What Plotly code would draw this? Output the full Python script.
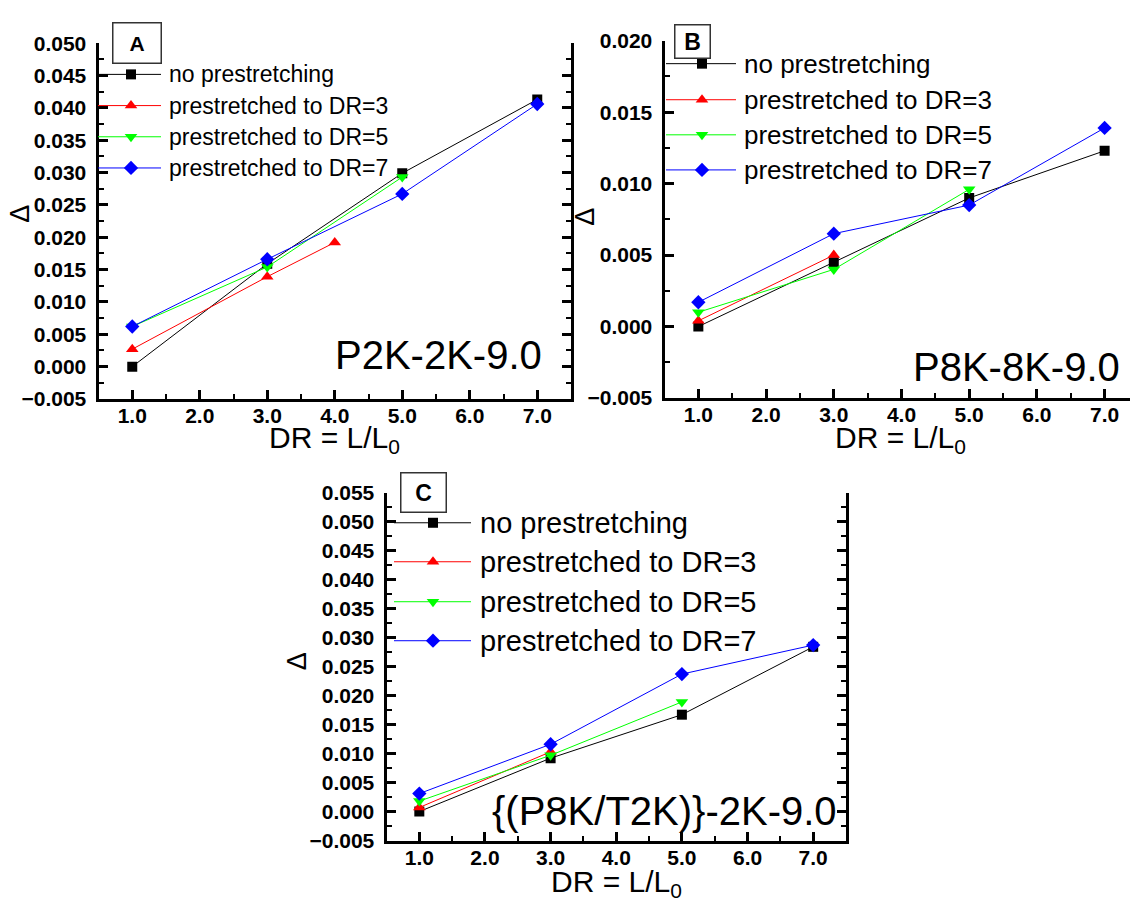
import plotly.graph_objects as go

# ---------------- data ----------------
DR_FULL = [1.0, 3.0, 5.0, 7.0]
DR_TO4 = [1.0, 3.0, 4.0]
DR_TO5 = [1.0, 3.0, 5.0]
DR_TO3 = [1.0, 3.0]

SERIES_NAMES = ["no prestretching", "prestretched to DR=3",
                "prestretched to DR=5", "prestretched to DR=7"]

# Panel A : P2K-2K-9.0
A_NONE = [0.0000, 0.0159, 0.0299, 0.0413]
A_DR3 = [0.0027, 0.0139, 0.0192]
A_DR5 = [0.0062, 0.0154, 0.0293]
A_DR7 = [0.0062, 0.0166, 0.0267, 0.0406]

# Panel B : P8K-8K-9.0
B_NONE = [0.0000, 0.0045, 0.0090, 0.0123]
B_DR3 = [0.0004, 0.0050]
B_DR5 = [0.0010, 0.0040, 0.0096]
B_DR7 = [0.0017, 0.0065, 0.0085, 0.0139]

# Panel C : {(P8K/T2K)}-2K-9.0
C_NONE = [0.0000, 0.0092, 0.0167, 0.0284]
C_DR3 = [0.0007, 0.0103]
C_DR5 = [0.0018, 0.0097, 0.0189]
C_DR7 = [0.0031, 0.0116, 0.0237, 0.0287]

X_TICKS = [1.0, 2.0, 3.0, 4.0, 5.0, 6.0, 7.0]

# ---------------- styles ----------------
W, H = 1130, 911
FONT = "Liberation Sans, Arial, sans-serif"
COLORS = ["#000000", "#ff0000", "#00ff00", "#0000ff"]
SYMBOLS = ["square", "triangle-up", "triangle-down", "diamond"]
MSIZES = [10, 11, 11, 11]


def px_x(v):
    return v / W


def px_y(v):
    return 1 - v / H


panels = [
    dict(name="A", label="P2K-2K-9.0", ax="", xr=[0.5, 7.5], yr=[-0.005, 0.050],
         dom_x=[98.5, 571], dom_y=[32, 397], mirror=True,
         data=[(DR_FULL, A_NONE), (DR_TO4, A_DR3), (DR_TO5, A_DR5), (DR_FULL, A_DR7)],
         box=(111, 10, 162, 53, 21), label_pos=(544, 352),
         leg=dict(x0=98, x1=161, xm=131, xt=167, rows=[64, 96, 128, 160], fs=23),
         delta=(20, 207), xtitle=(334, 437)),
    dict(name="B", label="P8K-8K-9.0", ax="2", xr=[0.5, 0.5 + (1130 - 664.5) / 67.71],
         yr=[-0.005, 0.020], dom_x=[664.5, 1130], dom_y=[29.5, 396], mirror=False,
         data=[(DR_FULL, B_NONE), (DR_TO3, B_DR3), (DR_TO5, B_DR5), (DR_FULL, B_DR7)],
         box=(673, 12, 711, 48, 23), label_pos=(1122, 364),
         leg=dict(x0=666, x1=736, xm=702, xt=742, rows=[53, 90, 126, 162], fs=26),
         delta=(585, 210), xtitle=(900, 437)),
    dict(name="C", label="{(P8K/T2K)}-2K-9.0", ax="3", xr=[0.5, 7.5], yr=[-0.005, 0.055],
         dom_x=[386.5, 846], dom_y=[493, 850], mirror=True,
         data=[(DR_FULL, C_NONE), (DR_TO3, C_DR3), (DR_TO5, C_DR5), (DR_FULL, C_DR7)],
         box=(399, 472, 447, 514, 23), label_pos=(839, 820),
         leg=dict(x0=394, x1=471, xm=433, xt=478, rows=[524, 564, 605, 645], fs=29),
         delta=(297, 666), xtitle=(616, 892)),
]

fig = go.Figure()
layout = dict(
    width=W, height=H, margin=dict(l=0, r=0, t=0, b=0),
    paper_bgcolor="white", plot_bgcolor="rgba(0,0,0,0)",
    showlegend=False, font=dict(family=FONT, color="black"),
)
annotations = []

for p in panels:
    ax = p["ax"]
    xa, ya = "x" + ax, "y" + ax
    for (xs, ys), c, s, ms in zip(p["data"], COLORS, SYMBOLS, MSIZES):
        fig.add_trace(go.Scatter(
            x=xs, y=ys, xaxis=xa, yaxis=ya, mode="lines+markers",
            line=dict(color=c, width=1),
            marker=dict(symbol=s, size=ms, color=c, line=dict(width=0)),
        ))
    tickfont = dict(family=FONT, size=21, color="black", weight="bold")
    layout["xaxis" + ax] = dict(
        domain=[px_x(p["dom_x"][0]), px_x(p["dom_x"][1])], range=p["xr"],
        anchor=ya, showgrid=False, zeroline=False, showline=True, linewidth=3,
        linecolor="black", mirror=False, ticks="inside", ticklen=9, tickwidth=2.5,
        tickcolor="black", tickvals=X_TICKS, tickformat=".1f", tickfont=tickfont,
        ticklabelstandoff=-4,
        minor=dict(dtick=0.5, tick0=0.5, ticks="inside", ticklen=5, tickwidth=2,
                   tickcolor="black"),
        fixedrange=True,
    )
    layout["yaxis" + ax] = dict(
        domain=[px_y(p["dom_y"][1]), px_y(p["dom_y"][0])],
        range=[p["yr"][0] - 1e-7, p["yr"][1] + 1e-7],
        anchor=xa, showgrid=False, zeroline=False, showline=True, linewidth=3,
        linecolor="black", mirror="ticks" if p["mirror"] else False,
        ticks="inside", ticklen=9, tickwidth=2.5, tickcolor="black",
        tick0=0, dtick=0.005, tickformat=".3f", tickfont=tickfont,
        ticklabelstandoff=5,
        minor=dict(dtick=0.0025, tick0=0, ticks="inside", ticklen=5, tickwidth=2,
                   tickcolor="black"),
        fixedrange=True,
    )

    # sample label in the plot
    annotations.append(dict(
        text=p["label"], xref="paper", yref="paper",
        x=px_x(p["label_pos"][0]), y=px_y(p["label_pos"][1]),
        xanchor="right", yanchor="middle", showarrow=False,
        font=dict(family=FONT, size=40, color="black"),
    ))
    # panel letter box
    bx0, by0, bx1, by1, bfs = p["box"]
    annotations.append(dict(
        text="<b>%s</b>" % p["name"], xref="paper", yref="paper",
        x=px_x((bx0 + bx1) / 2), y=px_y((by0 + by1) / 2),
        xanchor="center", yanchor="middle", showarrow=False,
        width=bx1 - bx0 - 4, height=by1 - by0 - 4,
        bordercolor="#333333", borderwidth=1.5, borderpad=0, bgcolor="white",
        font=dict(family=FONT, size=bfs, color="black"),
    ))
    # axis titles
    annotations.append(dict(
        text="Δ", xref="paper", yref="paper",
        x=px_x(p["delta"][0]), y=px_y(p["delta"][1]),
        xanchor="center", yanchor="middle", textangle=-90, showarrow=False,
        font=dict(family=FONT, size=27, color="black"),
    ))
    annotations.append(dict(
        text="DR = L/L<sub>0</sub>", xref="paper", yref="paper",
        x=px_x(p["xtitle"][0]), y=px_y(p["xtitle"][1] - 19),
        xanchor="center", yanchor="top", showarrow=False,
        font=dict(family=FONT, size=30, color="black"),
    ))

# ---- legend samples drawn on a hidden full-figure pixel axis ----
layout["xaxis4"] = dict(domain=[0, 1], range=[0, W], visible=False, fixedrange=True,
                        anchor="y4")
layout["yaxis4"] = dict(domain=[0, 1], range=[H, 0], visible=False, fixedrange=True,
                        anchor="x4")
for p in panels:
    lg = p["leg"]
    for name, c, s, ms, row in zip(SERIES_NAMES, COLORS, SYMBOLS, MSIZES, lg["rows"]):
        fig.add_trace(go.Scatter(
            x=[lg["x0"], lg["x1"]], y=[row, row], xaxis="x4", yaxis="y4",
            mode="lines", line=dict(color=c, width=1), hoverinfo="skip",
        ))
        fig.add_trace(go.Scatter(
            x=[lg["xm"]], y=[row], xaxis="x4", yaxis="y4", mode="markers",
            marker=dict(symbol=s, size=ms, color=c, line=dict(width=0)),
            hoverinfo="skip",
        ))
        annotations.append(dict(
            text=name, xref="x4", yref="y4", x=lg["xt"], y=row,
            xanchor="left", yanchor="middle", showarrow=False,
            font=dict(family=FONT, size=lg["fs"], color="black"),
        ))

layout["annotations"] = annotations
fig.update_layout(**layout)
fig.write_html("out.html")
